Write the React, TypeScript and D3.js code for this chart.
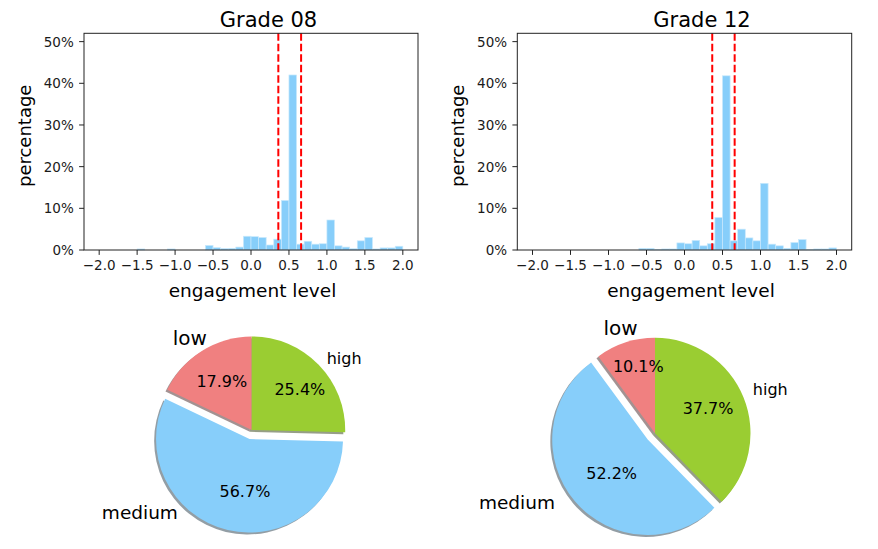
import React from 'react';
import * as d3 from 'd3';

// histogram bins: 40 bins of width 0.1 from -2.0 to 2.0
const binStarts = d3.range(40).map((i) => +(-2 + i * 0.1).toFixed(1));
const binWidth = 0.1;

// percentage of students per bin
const grade08Hist = [
  0, 0, 0, 0, 0, 0.25, 0, 0, 0, 0.25,
  0, 0, 0, 0, 1.1, 0.55, 0.35, 0.4, 0.7, 3.3,
  3.2, 3.0, 1.2, 2.6, 11.9, 42.0, 1.4, 2.1, 1.4, 1.5,
  7.2, 1.0, 0.7, 0.3, 2.2, 3.0, 0.25, 0.5, 0.5, 0.9,
];
const grade12Hist = [
  0, 0, 0, 0, 0, 0, 0, 0, 0, 0,
  0, 0, 0, 0, 0.4, 0.4, 0.15, 0.25, 0.25, 1.7,
  1.5, 2.3, 1.0, 1.5, 7.8, 41.8, 2.2, 5.0, 2.9, 2.2,
  16.0, 1.4, 1.0, 0.4, 1.8, 2.5, 0.1, 0.25, 0.25, 0.5,
];
const grade08Cuts = [0.36, 0.66];
const grade12Cuts = [0.365, 0.66];

const xTicks = [-2, -1.5, -1, -0.5, 0, 0.5, 1, 1.5, 2];
const yTicks = [0, 10, 20, 30, 40, 50];

const categories = ['low', 'medium', 'high'];
const grade08Pie = [17.9, 56.7, 25.4];
const grade12Pie = [10.1, 52.2, 37.7];
const explode = [0, 0.1, 0];
const sliceColors = ['#F08080', '#87CEFA', '#9ACD32'];
const shadowColors = ['#482626', '#283e4b', '#2e3d0f'];

const FONT = 'DejaVu Sans, sans-serif';
const W = 878;
const H = 549;

type HistProps = {
  x0: number;
  x1: number;
  title: string;
  values: number[];
  cuts: number[];
  yLabelX: number;
  xLabelShift: number;
};

const Histogram: React.FC<HistProps> = ({ x0, x1, title, values, cuts, yLabelX, xLabelShift }) => {
  const top = 33.3;
  const bottom = 250;
  const x = d3.scaleLinear().domain([-2.2, 2.2]).range([x0, x1]);
  const y = d3.scaleLinear().domain([0, 52]).range([bottom, top]);
  const fmtX = d3.format('.1f');
  const mid = (x0 + x1) / 2;

  return (
    <g>
      {binStarts.map((b, i) =>
        values[i] > 0 ? (
          <rect
            key={i}
            x={x(b)}
            y={y(values[i])}
            width={x(b + binWidth) - x(b)}
            height={bottom - y(values[i])}
            fill="#87CEFA"
            stroke="#c9e9fc"
            strokeWidth={0.7}
          />
        ) : null
      )}
      {cuts.map((c, i) => (
        <line
          key={i}
          x1={x(c)}
          x2={x(c)}
          y1={top}
          y2={bottom}
          stroke="red"
          strokeWidth={2}
          strokeDasharray="7.5,3"
        />
      ))}
      <rect x={x0} y={top} width={x1 - x0} height={bottom - top} fill="none" stroke="#222" strokeWidth={1} />
      {xTicks.map((t) => (
        <g key={t}>
          <line x1={x(t)} x2={x(t)} y1={bottom} y2={bottom + 4.9} stroke="#222" strokeWidth={1} />
          <text x={x(t)} y={269.5} textAnchor="middle" fontSize={13.5} fontFamily={FONT} fill="#1a1a1a">
            {fmtX(t)}
          </text>
        </g>
      ))}
      {yTicks.map((t) => (
        <g key={t}>
          <line x1={x0 - 4.9} x2={x0} y1={y(t)} y2={y(t)} stroke="#222" strokeWidth={1} />
          <text
            x={x0 - 10.2}
            y={y(t)}
            textAnchor="end"
            dominantBaseline="central"
            fontSize={13.5}
            fontFamily={FONT}
            fill="#1a1a1a"
          >
            {`${t}%`}
          </text>
        </g>
      ))}
      <text x={mid + 17.5} y={26.7} textAnchor="middle" fontSize={21} fontFamily={FONT} fill="#000">
        {title}
      </text>
      <text x={mid + xLabelShift} y={296.7} textAnchor="middle" fontSize={18.5} fontFamily={FONT} fill="#000">
        engagement level
      </text>
      <text
        transform={`translate(${yLabelX},135.8) rotate(-90)`}
        textAnchor="middle"
        fontSize={18}
        fontFamily={FONT}
        fill="#000"
      >
        percentage
      </text>
    </g>
  );
};

type PieProps = {
  cx: number;
  cy: number;
  r: number;
  values: number[];
  nameNudge: [number, number][];
  pctNudge: [number, number][];
};

const nameSizes = [20, 18.5, 16];

const PieChart: React.FC<PieProps> = ({ cx, cy, r, values, nameNudge, pctNudge }) => {
  const pie = d3
    .pie<number>()
    .sort(null)
    .value((d) => d)
    .startAngle(0)
    .endAngle(-2 * Math.PI);
  const arcs = pie(values);
  const arc = d3.arc<d3.PieArcDatum<number>>().innerRadius(0).outerRadius(r);
  const sh = 0.02 * r;

  const geo = arcs.map((a, i) => {
    const m = (a.startAngle + a.endAngle) / 2;
    const dx = Math.sin(m);
    const dy = -Math.cos(m);
    const ex = explode[i] * r;
    return { a, dx, dy, ox: cx + ex * dx, oy: cy + ex * dy };
  });

  return (
    <g>
      {geo.map((g, i) => (
        <path
          key={`s${i}`}
          d={arc(g.a) || ''}
          transform={`translate(${g.ox - sh},${g.oy + sh})`}
          fill={shadowColors[i]}
          opacity={0.5}
        />
      ))}
      {geo.map((g, i) => (
        <path key={`w${i}`} d={arc(g.a) || ''} transform={`translate(${g.ox},${g.oy})`} fill={sliceColors[i]} />
      ))}
      {geo.map((g, i) => (
        <text
          key={`n${i}`}
          x={g.ox + 1.1 * r * g.dx + nameNudge[i][0]}
          y={g.oy + 1.1 * r * g.dy + nameNudge[i][1]}
          textAnchor={g.dx < 0 ? 'end' : 'start'}
          dominantBaseline="central"
          fontSize={nameSizes[i]}
          fontFamily={FONT}
          fill="#000"
        >
          {categories[i]}
        </text>
      ))}
      {geo.map((g, i) => (
        <text
          key={`p${i}`}
          x={g.ox + 0.6 * r * g.dx + pctNudge[i][0]}
          y={g.oy + 0.6 * r * g.dy + pctNudge[i][1]}
          textAnchor="middle"
          dominantBaseline="central"
          fontSize={16}
          fontFamily={FONT}
          fill="#000"
        >
          {`${values[i].toFixed(1)}%`}
        </text>
      ))}
    </g>
  );
};

export default function App() {
  return (
    <svg
      width={W}
      height={H}
      viewBox={`0 0 ${W} ${H}`}
      style={{ position: 'absolute', left: 0, top: 0, background: '#fff' }}
    >
      <rect width={W} height={H} fill="#fff" />
      <Histogram
        x0={84}
        x1={418}
        title="Grade 08"
        values={grade08Hist}
        cuts={grade08Cuts}
        yLabelX={30.5}
        xLabelShift={1.5}
      />
      <Histogram
        x0={517.3}
        x1={851.7}
        title="Grade 12"
        values={grade12Hist}
        cuts={grade12Cuts}
        yLabelX={463.7}
        xLabelShift={6.5}
      />
      <PieChart
        cx={251.7}
        cy={430}
        r={93.5}
        values={grade08Pie}
        nameNudge={[[10, -5], [-47.6, -26.4], [1.4, 0]]}
        pctNudge={[[0, -1.5], [8.5, -2], [8, -1.5]]}
      />
      <PieChart
        cx={655}
        cy={433.3}
        r={95.5}
        values={grade12Pie}
        nameNudge={[[15.5, -5.2], [-12.7, -4.7], [0.5, -4.7]]}
        pctNudge={[[1.2, -12.2], [7.6, -3.3], [0, -3.4]]}
      />
    </svg>
  );
}
